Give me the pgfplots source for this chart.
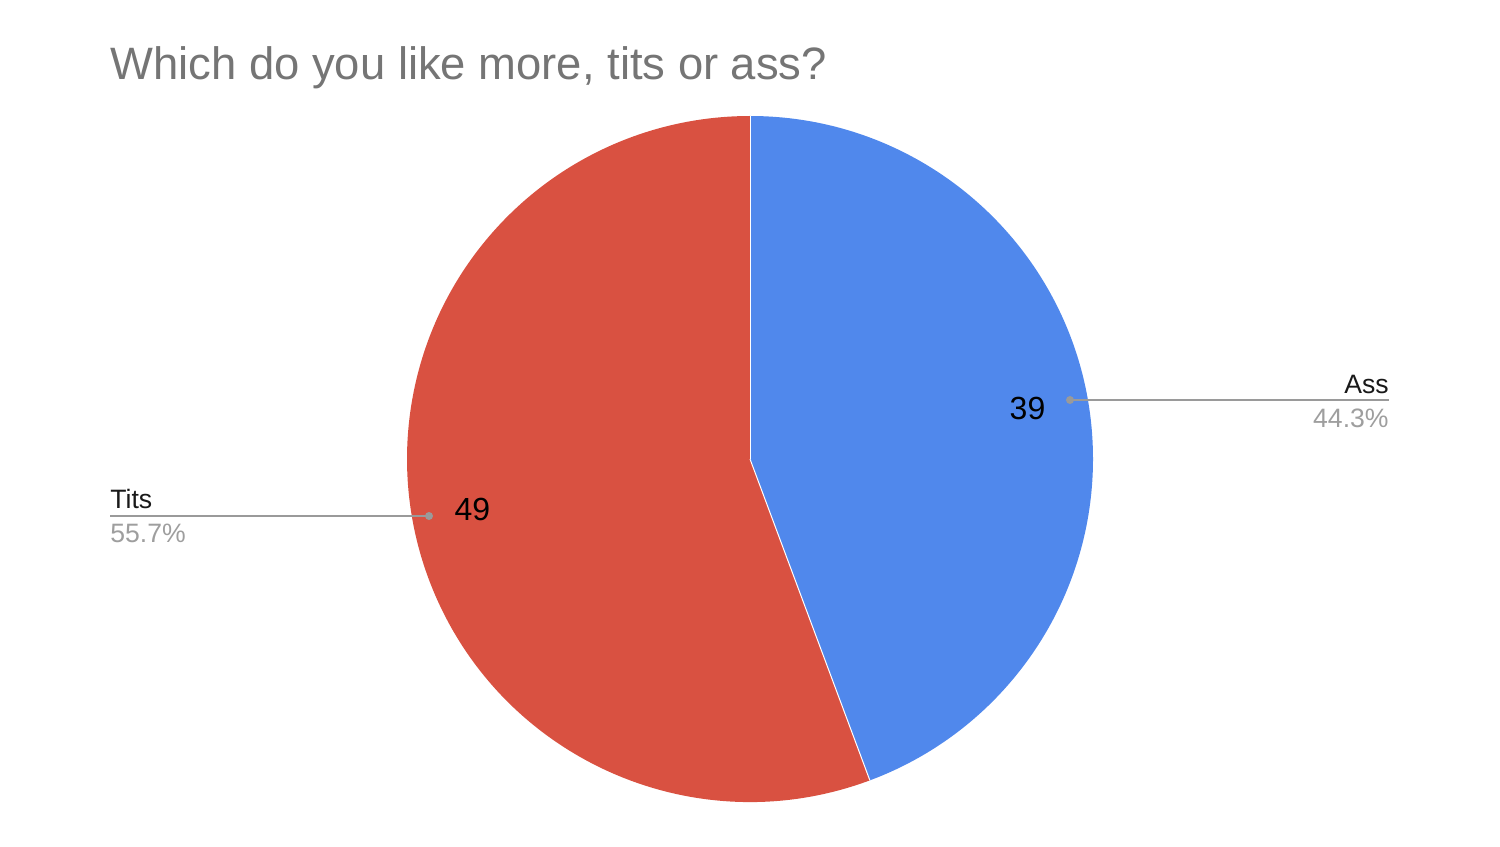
\documentclass[border=0pt]{standalone}
\usepackage{pgfplots}
\pgfplotsset{compat=1.18}
\usetikzlibrary{calc}
\usepackage{fontspec}
\setmainfont{Liberation Sans}
\definecolor{cAss}{HTML}{5088EC}
\definecolor{cTits}{HTML}{D95141}
\definecolor{cTitle}{HTML}{757575}
\definecolor{cPct}{HTML}{9E9E9E}
\definecolor{cLine}{HTML}{9A9A9A}
\def\valAss{39}
\def\valTits{49}
\begin{document}
\begin{tikzpicture}[x=0.5pt,y=0.5pt]
\begin{axis}[
  xmin=0,xmax=1500,ymin=0,ymax=843,
  width=750pt,height=421.5pt,scale only axis,
  hide axis,clip=false,
  /pgf/number format/assume math mode=true]
\pgfmathsetmacro{\tot}{\valAss+\valTits}
\pgfmathsetmacro{\angA}{360*\valAss/\tot}
\pgfmathsetmacro{\endA}{90-\angA}
\pgfmathsetmacro{\midA}{90-\angA/2}
\pgfmathsetmacro{\midT}{\endA-(360-\angA)/2}
\pgfmathsetmacro{\pctA}{100*\valAss/\tot}
\pgfmathsetmacro{\pctT}{100*\valTits/\tot}
\path (axis cs:0,0) rectangle (axis cs:1500,843);
% slices
\fill[cAss] (axis cs:750,384) -- ++(90:171.5pt) arc[start angle=90, end angle=\endA, radius=171.5pt] -- cycle;
\fill[cTits] (axis cs:750,384) -- ++(\endA:171.5pt) arc[start angle=\endA, end angle=-270, radius=171.5pt] -- cycle;
\draw[white,line width=0.5pt] (axis cs:750,384) -- ++(90:171.5pt);
\draw[white,line width=0.5pt] (axis cs:750,384) -- ++(\endA:171.5pt);
% value labels
\node[font=\fontsize{16}{18}\selectfont,text=black] at ($(axis cs:750,384)+(\midA:141pt)$) {\valAss};
\node[font=\fontsize{16}{18}\selectfont,text=black] at ($(axis cs:750,384)+(\midT:141pt)$) {\valTits};
% leader lines
\draw[cLine,line width=1pt] (axis cs:1070,443) -- (axis cs:1389,443);
\fill[cLine] (axis cs:1070,443) circle[radius=2pt];
\draw[cLine,line width=1pt] (axis cs:429,327) -- (axis cs:110,327);
\fill[cLine] (axis cs:429,327) circle[radius=2pt];
% category labels
\node[anchor=base east,inner sep=0pt,font=\fontsize{13.3}{15}\selectfont,text=black!90] at (axis cs:1389,450) {Ass};
\node[anchor=base east,inner sep=0pt,font=\fontsize{13.3}{15}\selectfont,text=cPct] at (axis cs:1389,416) {\pgfmathprintnumber[fixed,precision=1,fixed zerofill,assume math mode=true]{\pctA}\%};
\node[anchor=base west,inner sep=0pt,font=\fontsize{13.3}{15}\selectfont,text=black!90] at (axis cs:110,335) {Tits};
\node[anchor=base west,inner sep=0pt,font=\fontsize{13.3}{15}\selectfont,text=cPct] at (axis cs:110,301) {\pgfmathprintnumber[fixed,precision=1,fixed zerofill,assume math mode=true]{\pctT}\%};
% title
\node[anchor=base west,inner sep=0pt,font=\fontsize{22.7}{26}\selectfont,text=cTitle] at (axis cs:110,763) {Which do you like more, tits or ass?};
\end{axis}
\end{tikzpicture}
\end{document}
